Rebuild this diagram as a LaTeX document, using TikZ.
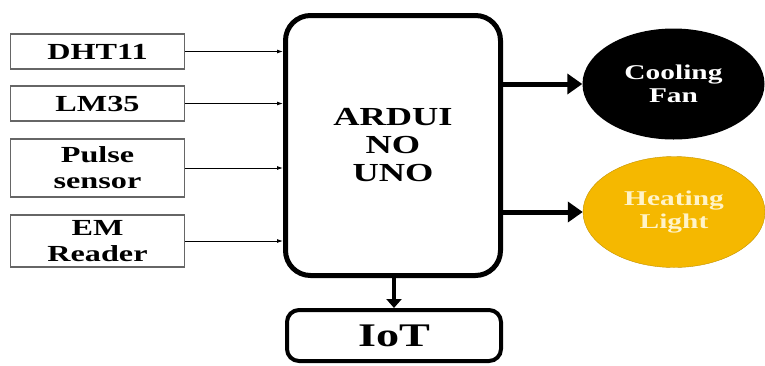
\documentclass[tikz,border=0pt]{standalone}
\usepackage{fontspec}
\usetikzlibrary{arrows.meta,shapes.geometric}
\newfontfamily\labfont[FakeStretch=1.4]{Liberation Serif}
\definecolor{heat}{HTML}{F5B800}
\definecolor{heattext}{HTML}{FFF3C8}
\begin{document}
\begin{tikzpicture}[x=1pt,y=-1pt,font=\labfont\bfseries\fontsize{23}{26}\selectfont,
	sens/.style={draw=black!60,line width=1.3pt,minimum width=174pt,align=center,inner sep=0pt},
	outp/.style={ellipse,minimum width=182pt,minimum height=111pt,align=center,inner sep=0pt,
		font=\labfont\bfseries\fontsize{21}{23}\selectfont},
	thin/.style={line width=0.9pt,-{Latex[length=6pt,width=4pt]}},
	fat/.style={line width=5pt,-{Triangle[length=15pt,width=20pt]}}]
	\useasboundingbox (0,0) rectangle (765,365);
	\foreach \n/\y/\h/\t in {dht/51.5/35/DHT11,lm/103.5/35/LM35,pulse/168/58/{Pulse\\sensor},em/241/52/{EM\\Reader}}
		\node[sens,minimum height=\h pt] (\n) at (97.5,\y) {\t};
	\node[draw,line width=5pt,rounded corners=25pt,minimum width=215pt,minimum height=260pt,align=center,
		font=\labfont\bfseries\fontsize{26}{28}\selectfont] (ard) at (393,145.5) {ARDUI\\NO\\UNO};
	\node[draw,line width=4pt,rounded corners=12pt,minimum width=214pt,minimum height=51pt,
		font=\labfont\bfseries\fontsize{33}{35}\selectfont] (iot) at (394,335.5) {IoT};
	\node[outp,fill=black,text=white] (fan) at (673.5,84) {Cooling\\Fan};
	\node[outp,fill=heat,draw=heat!80!black,line width=0.4pt,text=heattext] (heat) at (674,212) {Heating\\Light};
	\foreach \n in {dht,lm,pulse,em} \draw[thin] (\n.east) -- (\n.east -| ard.west);
	\draw[fat] (fan.west -| ard.east) -- (fan.west);
	\draw[fat] (heat.west -| ard.east) -- (heat.west);
	\draw[line width=4pt,-{Triangle[length=9pt,width=15pt]}] (ard.south -| iot.north) -- (iot.north);
\end{tikzpicture}
\end{document}
